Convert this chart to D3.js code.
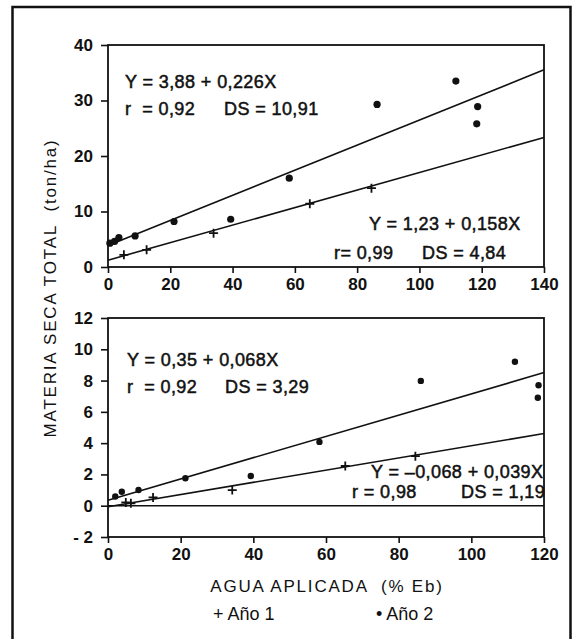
<!DOCTYPE html>
<html>
<head>
<meta charset="utf-8">
<script src="https://cdn.jsdelivr.net/npm/d3@7"></script>
<style>
  body { margin: 0; background: #fff; }
  text { font-family: "Liberation Sans", Arial, sans-serif; fill: #111; }
</style>
</head>
<body>
<div id="grafico"></div>
<script>
// DATOS - panel superior (materia seca total)
var sup_anio1_x = [5.1, 12.4, 33.9, 64.8, 84.6];
var sup_anio1_y = [2.2, 3.1, 6.1, 11.4, 14.2];
var sup_anio2_x = [0.6, 2.1, 3.5, 8.7, 21.2, 39.4, 58.2, 86.4, 111.7, 118.7, 118.4];
var sup_anio2_y = [4.3, 4.6, 5.3, 5.6, 8.2, 8.6, 16.0, 29.3, 33.5, 28.9, 25.8];
// recta: [intercepto, pendiente]
var sup_recta1 = [1.23, 0.158];
var sup_recta2 = [3.88, 0.226];
var sup_ticks_x = [0, 20, 40, 60, 80, 100, 120, 140];
var sup_ticks_y = [0, 10, 20, 30, 40];

// DATOS - panel inferior
var inf_anio1_x = [4.9, 6.3, 12.4, 34.2, 65.3, 84.6];
var inf_anio1_y = [0.21, 0.15, 0.53, 1.0, 2.54, 3.17];
var inf_anio2_x = [2.0, 3.8, 8.4, 21.3, 39.3, 58.2, 86.1, 112.0, 118.5, 118.3];
var inf_anio2_y = [0.59, 0.89, 1.0, 1.76, 1.9, 4.08, 7.98, 9.2, 7.7, 6.9];
var inf_recta1 = [-0.068, 0.039];
var inf_recta2 = [0.35, 0.068];
var inf_ticks_x = [0, 20, 40, 60, 80, 100, 120];
var inf_ticks_y = [-2, 0, 2, 4, 6, 8, 10, 12];
var inf_etiquetas_y = ['- 2', '0', '2', '4', '6', '8', '10', '12'];

var ancho = 579, alto = 639;
var svg = d3.select('#grafico').append('svg')
    .attr('width', ancho)
    .attr('height', alto);

// marco exterior (el borde inferior queda fuera de la imagen)
svg.append('rect')
    .attr('x', 12.5).attr('y', 7)
    .attr('width', 558).attr('height', 660)
    .attr('fill', 'none')
    .attr('stroke', '#111')
    .attr('stroke-width', 2.5);

function panel(cfg) {
    var sx = d3.scaleLinear().domain(cfg.dx).range([108, 544]);
    var sy = d3.scaleLinear().domain(cfg.dy).range([cfg.pyAbajo, cfg.pyArriba]);
    var g = svg.append('g');

    // caja
    g.append('rect')
        .attr('x', sx(cfg.dx[0])).attr('y', sy(cfg.dy[1]))
        .attr('width', sx(cfg.dx[1]) - sx(cfg.dx[0]))
        .attr('height', sy(cfg.dy[0]) - sy(cfg.dy[1]))
        .attr('fill', 'none').attr('stroke', '#111').attr('stroke-width', 1.8);

    // ejes
    var ejeX = g.append('g')
        .attr('transform', 'translate(0,' + sy(cfg.dy[0]) + ')')
        .call(d3.axisBottom(sx).tickValues(cfg.tx).tickSize(6).tickSizeOuter(0).tickPadding(5));
    var ejeY = g.append('g')
        .attr('transform', 'translate(' + sx(cfg.dx[0]) + ',0)')
        .call(d3.axisLeft(sy).tickValues(cfg.ty).tickSize(7).tickSizeOuter(0).tickPadding(8)
            .tickFormat(function (d, i) { return cfg.ey ? cfg.ey[i] : d; }));
    [ejeX, ejeY].forEach(function (e) {
        e.select('.domain').remove();
        e.selectAll('line').attr('stroke', '#111').attr('stroke-width', 1.6);
        e.selectAll('text').attr('font-size', 17).attr('font-weight', 'bold').attr('fill', '#111');
    });

    // linea en y = 0 (solo panel inferior)
    if (cfg.dy[0] < 0) {
        g.append('line')
            .attr('x1', sx(cfg.dx[0])).attr('x2', sx(cfg.dx[1]))
            .attr('y1', sy(0)).attr('y2', sy(0))
            .attr('stroke', '#111').attr('stroke-width', 1.6);
    }

    // rectas de regresion
    [cfg.r1, cfg.r2].forEach(function (r) {
        g.append('line')
            .attr('x1', sx(cfg.dx[0])).attr('y1', sy(r[0] + r[1] * cfg.dx[0]))
            .attr('x2', sx(cfg.dx[1])).attr('y2', sy(r[0] + r[1] * cfg.dx[1]))
            .attr('stroke', '#111').attr('stroke-width', 1.6);
    });

    // Año 2: puntos
    g.selectAll('circle.a2').data(cfg.x2).enter().append('circle')
        .attr('cx', function (d) { return sx(d); })
        .attr('cy', function (d, i) { return sy(cfg.y2[i]); })
        .attr('r', cfg.rad)
        .attr('fill', '#111');

    // Año 1: cruces
    var c = 4.5;
    g.selectAll('path.a1').data(cfg.x1).enter().append('path')
        .attr('d', function (d, i) {
            var px = sx(d), py = sy(cfg.y1[i]);
            return 'M' + (px - c) + ',' + py + 'H' + (px + c) + 'M' + px + ',' + (py - c) + 'V' + (py + c);
        })
        .attr('stroke', '#111').attr('stroke-width', 1.8);

    // ecuaciones
    cfg.textos.forEach(function (t) {
        g.append('text')
            .attr('x', t[0]).attr('y', t[1])
            .attr('font-size', 18)
            .attr('letter-spacing', 0.4)
            .style('white-space', 'pre')
            .attr('stroke', '#111').attr('stroke-width', 0.5)
            .text(t[2]);
    });
}

panel({
    dx: [0, 140], dy: [0, 40], pyAbajo: 267, pyArriba: 45,
    tx: sup_ticks_x, ty: sup_ticks_y,
    x1: sup_anio1_x, y1: sup_anio1_y, x2: sup_anio2_x, y2: sup_anio2_y,
    r1: sup_recta1, r2: sup_recta2, rad: 3.6,
    textos: [
        [125, 88, 'Y = 3,88 + 0,226X'],
        [125, 115, 'r  = 0,92'],
        [224, 115, 'DS = 10,91'],
        [369, 230, 'Y = 1,23 + 0,158X'],
        [334, 259, 'r= 0,99'],
        [422, 259, 'DS = 4,84']
    ]
});

panel({
    dx: [0, 120], dy: [-2, 12], pyAbajo: 537, pyArriba: 318,
    tx: inf_ticks_x, ty: inf_ticks_y, ey: inf_etiquetas_y,
    x1: inf_anio1_x, y1: inf_anio1_y, x2: inf_anio2_x, y2: inf_anio2_y,
    r1: inf_recta1, r2: inf_recta2, rad: 3.2,
    textos: [
        [127, 366, 'Y = 0,35 + 0,068X'],
        [127, 393, 'r  = 0,92'],
        [225, 393, 'DS = 3,29'],
        [371, 478, 'Y = \u20130,068 + 0,039X'],
        [352, 498, 'r = 0,98'],
        [461, 498, 'DS = 1,19']
    ]
});

// TITULOS DE EJES
svg.append('text')
    .attr('transform', 'translate(56,288) rotate(-90)')
    .attr('text-anchor', 'middle')
    .attr('font-size', 17)
    .attr('letter-spacing', 1.8)
    .style('white-space', 'pre')
    .text('MATERIA SECA TOTAL  (ton/ha)');

svg.append('text')
    .attr('x', 327).attr('y', 592)
    .attr('text-anchor', 'middle')
    .attr('font-size', 17)
    .attr('letter-spacing', 1.8)
    .style('white-space', 'pre')
    .text('AGUA APLICADA  (% Eb)');

// LEYENDA
svg.append('text')
    .attr('x', 213).attr('y', 620)
    .attr('font-size', 18)
    .style('white-space', 'pre')
    .text('+ Año 1');
svg.append('text')
    .attr('x', 376).attr('y', 620)
    .attr('font-size', 18)
    .style('white-space', 'pre')
    .text('\u2022 Año 2');
</script>
</body>
</html>
